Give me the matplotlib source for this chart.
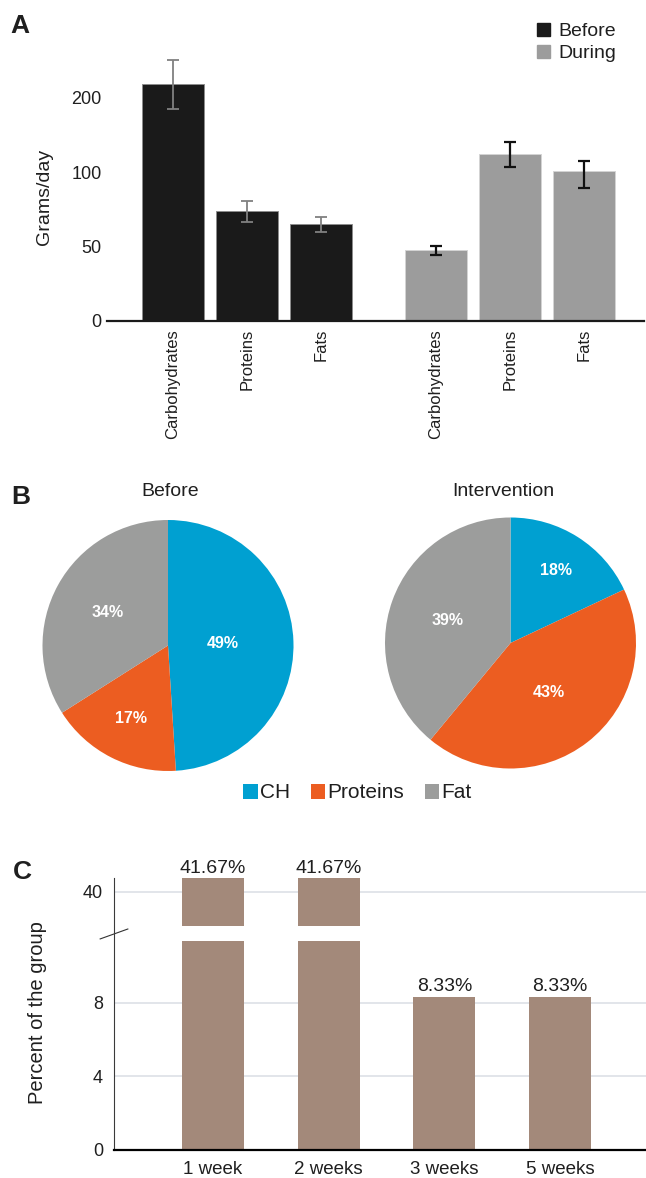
import numpy as np
import matplotlib
matplotlib.use("Agg")
import matplotlib.pyplot as plt
from matplotlib.patches import Patch

plt.rcParams['font.family'] = ['Liberation Sans', 'DejaVu Sans']
plt.rcParams['text.color'] = '#1f1f1f'
plt.rcParams['xtick.color'] = '#1f1f1f'
plt.rcParams['ytick.color'] = '#1f1f1f'

# A: daily intake in grams/day, mean and error
nutrients = ["Carbohydrates", "Proteins", "Fats"]
before_g = [218, 73.5, 65]
before_err = [33, 7, 5]
during_g = [47.5, 124, 102]
during_err = [3, 17, 13]

# B: share of each macronutrient (%)
macro_labels = ["CH", "Proteins", "Fat"]
before_pct = [49, 17, 34]
interv_pct = [18, 43, 39]

# C: time needed, percent of the group
durations = ["1 week", "2 weeks", "3 weeks", "5 weeks"]
group_pct = [41.67, 41.67, 8.33, 8.33]

W, H = 646, 1178


def rect(l, t, r, b):
    return [l / W, 1 - b / H, (r - l) / W, (b - t) / H]


def ftext(x, y, s, **kw):
    fig.text(x / W, 1 - y / H, s, **kw)


# uneven y axis of panel A: 0, 50, 100, 200 equally spaced
a_knots = [0, 50, 100, 200, 300]
a_steps = [0, 1, 2, 3, 4]


def a_fwd(v):
    return np.interp(v, a_knots, a_steps)


def a_inv(s):
    return np.interp(s, a_steps, a_knots)


# broken y axis of panel C
break_lo, break_hi = 11.37, 35.94
c_knots = [0, break_lo, break_hi, 50]
c_px = [0, 209, 224, 341.8]


def c_fwd(v):
    return np.interp(v, c_knots, c_px)


def c_inv(p):
    return np.interp(p, c_px, c_knots)


fig = plt.figure(figsize=(W / 100, H / 100), dpi=100)

# ---- A ----
axA = fig.add_axes(rect(107, 53.2, 644, 320.7))
axA.set_yscale('function', functions=(a_fwd, a_inv))
xb = np.arange(3)
xd = np.arange(3) + 3.55
axA.bar(xb, before_g, width=0.84, color='#1a1a1a', edgecolor='#8c8c8c', linewidth=0.7)
axA.bar(xd, during_g, width=0.84, color='#9c9c9c', edgecolor='#d4d4d4', linewidth=0.7)
axA.errorbar(xb, before_g, yerr=before_err, fmt='none', ecolor='#808080',
             elinewidth=1.3, capsize=4, capthick=1.3)
axA.errorbar(xd, during_g, yerr=during_err, fmt='none', ecolor='#111111',
             elinewidth=1.6, capsize=4.5, capthick=1.6)
axA.set_xlim(-0.89, 6.36)
axA.set_ylim(0, 260)
axA.set_yticks([0, 50, 100, 200])
axA.set_yticklabels(["0", "50", "100", "200"])
axA.tick_params(axis='y', length=0, labelsize=13, pad=4)
axA.set_xticks(np.concatenate([xb, xd]))
axA.set_xticklabels(nutrients * 2, rotation=90, fontsize=12)
axA.tick_params(axis='x', length=0, pad=6)
for s in ['top', 'right', 'left']:
    axA.spines[s].set_visible(False)
axA.spines['bottom'].set_linewidth(1.6)
axA.spines['bottom'].set_color('#1a1a1a')
ftext(44, 197, "Grams/day", rotation=90, ha='center', va='center', fontsize=14)
fig.legend(handles=[Patch(color='#1a1a1a'), Patch(color='#9c9c9c')],
           labels=["Before", "During"], loc='center left',
           bbox_to_anchor=(537 / W, 1 - 42.5 / H), frameon=False, fontsize=14,
           handlelength=0.65, handleheight=0.65, handletextpad=0.45,
           labelspacing=0.25, borderpad=0, borderaxespad=0)
ftext(20, 26, "A", fontsize=19, fontweight='bold', ha='center', va='center')

# ---- B ----
pie_colors = ['#00a0d1', '#ec5d21', '#9c9d9c']
pies = [
    (168, 645.5, before_pct, "Before", 170, [0.44, 0.65, 0.55]),
    (510.5, 643, interv_pct, "Intervention", 503, [0.68, 0.50, 0.53]),
]
r = 125.5
for cx, cy, vals, title, tx, dists in pies:
    ax = fig.add_axes(rect(cx - r, cy - r, cx + r, cy + r))
    wedges, _ = ax.pie(vals, colors=pie_colors, startangle=90, counterclock=False,
                       radius=1)
    ax.set_xlim(-1, 1)
    ax.set_ylim(-1, 1)
    for w, v, d in zip(wedges, vals, dists):
        ang = np.deg2rad((w.theta1 + w.theta2) / 2)
        ax.text(d * np.cos(ang), d * np.sin(ang), f"{v}%", color='white',
                fontweight='bold', fontsize=11.5, ha='center', va='center')
    ftext(tx, 492, title, ha='center', va='center', fontsize=14)

fig.legend(wedges, macro_labels, loc='center left', ncol=3,
           bbox_to_anchor=(243 / W, 1 - 793 / H), frameon=False, fontsize=15,
           handlelength=0.7, handleheight=0.7, handletextpad=0.1,
           columnspacing=1.0, borderpad=0, borderaxespad=0)
ftext(21, 497, "B", fontsize=19, fontweight='bold', ha='center', va='center')

# ---- C ----
axC = fig.add_axes(rect(114, 878, 646, 1150))
axC.set_yscale('function', functions=(c_fwd, c_inv))
xc = np.arange(len(durations))
bars = axC.bar(xc, group_pct, width=0.536, color='#a3897a', zorder=1)
axC.axhspan(break_lo, break_hi, color='white', lw=0, zorder=1.5)
axC.set_axisbelow(True)
axC.yaxis.grid(True, color='#dfe3e8', linewidth=1.3)
axC.bar_label(bars, labels=[f"{v:.2f}%" for v in group_pct], padding=1, fontsize=14)
axC.set_xlim(-0.856, 3.743)
axC.set_ylim(0, 41.67)
axC.set_yticks([0, 4, 8, 40])
axC.set_yticklabels(["0", "4", "8", "40"])
axC.tick_params(axis='y', length=0, labelsize=13, pad=8)
axC.set_xticks(xc)
axC.set_xticklabels(durations, fontsize=13.5)
axC.tick_params(axis='x', length=0, pad=8)
for s in ['top', 'right']:
    axC.spines[s].set_visible(False)
axC.spines['left'].set_linewidth(0.8)
axC.spines['left'].set_color('#3a3a3a')
axC.spines['bottom'].set_linewidth(1.6)
axC.spines['bottom'].set_color('#000000')
axC.plot([-0.026, 0.026], [0.776, 0.8125], transform=axC.transAxes,
         color='#333333', lw=0.8, clip_on=False)
ftext(38, 1012.5, "Percent of the group", rotation=90, ha='center', va='center',
      fontsize=14.5)
ftext(22, 872, "C", fontsize=19, fontweight='bold', ha='center', va='center')

fig.savefig("out.png", dpi=100)
